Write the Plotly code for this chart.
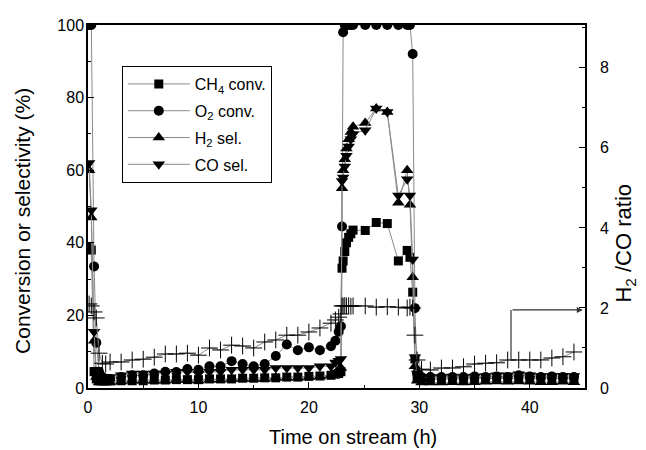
import plotly.graph_objects as go

# time on stream (h)
time_h = [0.1, 0.3, 0.55, 0.75, 1.0, 1.3, 1.6, 2.0,
          3, 4, 5, 6, 7, 8, 9, 10, 11, 12, 13, 14, 15, 16, 17, 18, 19, 20, 21, 22,
          22.4, 22.7, 22.9, 23.0, 23.1, 23.25, 23.4, 23.6, 23.8, 24.0, 25.1, 26.1, 27.1, 28.1,
          28.9, 29.15, 29.4, 29.6, 29.8,
          30.2, 31, 32, 33, 34, 35, 36, 37, 38, 39, 40, 41, 42, 43, 44]

ch4_conv = [39, 38, 4.5, 2.5, 2, 2, 2, 2,
            2, 2, 2, 2.2, 2.2, 2.3, 2.3, 2.3, 2.5, 2.5, 2.5, 2.7, 2.7, 2.8, 2.8, 3, 3, 3.2, 3.3, 3.5,
            3.8, 4, 4.5, 33, 35, 37.6, 40, 41.5, 42.5, 43.5, 43.4, 45.6, 45.3, 35,
            37.9, 36, 26.4, 8, 3,
            2.2, 2.5, 2.3, 2.5, 2.4, 2.6, 2.5, 2.7, 2.5, 2.8, 2.6, 2.5, 2.7, 2.5, 2.6]

o2_conv = [100, 100, 33.5, 12.5, 4.5, 3, 2.5, 2.5,
           3, 3.5, 3.5, 4, 4.5, 4.4, 5.2, 5, 6, 6, 7.4, 6.6, 6, 6.6, 8.8, 12, 10.4, 11.2, 10.4, 11.5,
           13, 15.5, 17, 44.5, 98, 100, 100, 100, 100, 100, 100, 100, 100, 100,
           100, 100, 92, 22, 4,
           3, 3, 3, 3, 3, 3.2, 3, 3.2, 3, 3.5, 3.2, 3, 3.2, 3, 3]

h2_sel = [60, 47, 13, 3, 1.5, 1.5, 1.5, 1.5,
          1.8, 2, 2, 2, 2, 2.2, 2.2, 2, 2.3, 2.3, 2.5, 2.5, 2.5, 2.5, 2.8, 2.8, 2.8, 3, 3.2, 3.5,
          4, 5, 5.5, 55, 60, 63, 66, 68.5, 70.5, 72, 73, 77, 76, 51,
          60, 50.5, 30.5, 6, 2,
          1.5, 1.5, 1.5, 1.6, 1.5, 1.6, 1.7, 1.8, 1.7, 1.8, 1.7, 1.6, 1.6, 1.7, 1.6]

co_sel = [62, 49, 15.5, 5, 3.5, 3, 3, 3,
          3.5, 4, 4, 4, 4, 4.5, 4.5, 4, 4.5, 4.5, 5, 5, 5, 5, 5.5, 5.5, 5.5, 5.5, 6, 6,
          7, 7.5, 8, 57, 58, 61, 64, 66.5, 68.5, 70, 71, 77, 76, 53,
          57.5, 53, 35.4, 8.5, 4,
          3, 3, 3, 3.2, 3, 3.2, 3.3, 3.5, 3.5, 3.8, 3.5, 3.3, 3.3, 3.4, 3.3]

h2_co_ratio = [2.1, 2.05, 1.9, 1.75, 0.87, 0.62, 0.6, 0.65,
               0.65, 0.7, 0.72, 0.77, 0.85, 0.85, 0.87, 0.82, 1.0, 0.95, 1.07, 1.05, 1.0, 1.15, 1.2, 1.32,
               1.32, 1.4, 1.5, 1.62,
               1.7, 1.77, 1.85, 2.05, 2.05, 2.06, 2.05, 2.06, 2.04, 2.05, 2.05, 2.02, 2.03, 2.02,
               2.0, 2.02, 2.0, 1.32, 0.7,
               0.47, 0.45, 0.5, 0.5, 0.53, 0.6, 0.62, 0.63, 0.7, 0.7, 0.7, 0.7, 0.75, 0.78, 0.9]

FONT = "Liberation Sans, Arial, sans-serif"
LINE_GREY = "#8a8a8a"

fig = go.Figure()

series = [
    ("CH<sub>4</sub> conv.", ch4_conv, "square", 9),
    ("O<sub>2</sub> conv.", o2_conv, "circle", 10),
    ("H<sub>2</sub> sel.", h2_sel, "triangle-up", 11),
    ("CO sel.", co_sel, "triangle-down", 11),
]
for i, (name, vals, sym, size) in enumerate(series):
    fig.add_trace(go.Scatter(
        x=time_h, y=vals, name=name, mode="lines+markers",
        legendgroup=f"g{i}",
        line=dict(color=LINE_GREY, width=1),
        marker=dict(symbol=sym, size=size, color="black"),
    ))

# H2/CO ratio on right axis
fig.add_trace(go.Scatter(
    x=time_h, y=h2_co_ratio, yaxis="y2", mode="lines+markers",
    showlegend=False,
    line=dict(color=LINE_GREY, width=1),
    marker=dict(symbol="cross-thin", size=12, color="black",
                line=dict(color="black", width=1)),
))

# arrow pointing to the right axis
fig.add_shape(type="line", xref="x", yref="y2", x0=38.3, x1=38.3, y0=0.72, y1=1.95,
              line=dict(color="#333333", width=1.2))
fig.add_annotation(x=44.8, y=1.95, xref="x", yref="y2", ax=38.3, ay=1.95,
                   axref="x", ayref="y2", showarrow=True, arrowhead=2,
                   arrowsize=1, arrowwidth=1.2, arrowcolor="#333333", text="")

# axis titles as annotations so they sit where the original has them
fig.add_annotation(text="Time on stream (h)", xref="paper", yref="paper",
                   x=0.533, y=-0.135, xanchor="center", yanchor="middle",
                   showarrow=False, font=dict(family=FONT, size=20))
fig.add_annotation(text="Conversion or selectivity (%)", xref="paper", yref="paper",
                   x=-0.133, y=0.46, xanchor="center", yanchor="middle",
                   textangle=-90, showarrow=False, font=dict(family=FONT, size=21))
fig.add_annotation(text="H<sub>2</sub> /CO ratio", xref="paper", yref="paper",
                   x=1.08, y=0.40, xanchor="center", yanchor="middle",
                   textangle=-90, showarrow=False, font=dict(family=FONT, size=22))

axis_common = dict(showline=True, linecolor="black", linewidth=1.5,
                   ticks="inside", ticklen=6, tickcolor="black",
                   showgrid=False, zeroline=False, automargin=False,
                   tickfont=dict(family=FONT, size=16, color="black"))

# page body has an 8px default margin, so the figure is drawn 8px smaller
fig.update_layout(
    width=638, height=442,
    margin=dict(l=80, r=61, t=17, b=62),
    paper_bgcolor="white", plot_bgcolor="white",
    font=dict(family=FONT, color="black"),
    xaxis=dict(range=[0, 45], dtick=10, mirror=True,
               minor=dict(dtick=5, ticks="inside", ticklen=3, tickcolor="black"),
               ticklabelstandoff=4,
               **axis_common),
    yaxis=dict(range=[0, 100], dtick=20,
               minor=dict(dtick=10, ticks="inside", ticklen=3, tickcolor="black"),
               ticklabelstandoff=-1,
               **axis_common),
    yaxis2=dict(range=[0, 9.07], dtick=2, overlaying="y", side="right",
                minor=dict(dtick=1, ticks="inside", ticklen=3, tickcolor="black"),
                ticklabelstandoff=10,
                **axis_common),
    legend=dict(x=0.068, y=0.887, xanchor="left", yanchor="top",
                bordercolor="black", borderwidth=1, bgcolor="white",
                font=dict(family=FONT, size=16, color="black"),
                itemwidth=62, tracegroupgap=3),
    showlegend=True,
)

fig.write_html("out.html")
